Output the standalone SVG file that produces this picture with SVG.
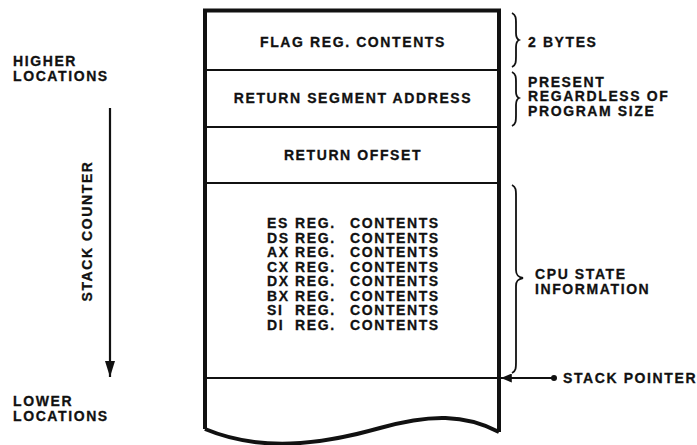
<svg xmlns="http://www.w3.org/2000/svg" width="697" height="445" viewBox="0 0 697 445">
<style>
text{font-family:"Liberation Sans",Arial,sans-serif;font-weight:bold;font-size:14px;fill:#111;stroke:#111;stroke-width:0.3;letter-spacing:1.6px}
.c{text-anchor:middle}
.thick{fill:none;stroke:#111;stroke-width:4;stroke-linejoin:miter}
.div{fill:none;stroke:#111;stroke-width:2}
.br{fill:none;stroke:#111;stroke-width:1.8}
</style>
<defs>
<marker id="ah" viewBox="0 0 12 10" refX="12" refY="5" markerWidth="12" markerHeight="9" markerUnits="userSpaceOnUse" orient="auto">
<path d="M0,0 L12,5 L0,10 Z" fill="#111"/>
</marker>
<marker id="ah2" viewBox="0 0 16 10" refX="16" refY="5" markerWidth="16" markerHeight="10" markerUnits="userSpaceOnUse" orient="auto">
<path d="M0,0 L16,5 L0,10 Z" fill="#111"/>
</marker>
</defs>
<g id="labels-left">
<text x="13" y="66">HIGHER</text>
<text x="13" y="80.5">LOCATIONS</text>
<text x="13" y="406">LOWER</text>
<text x="13" y="420.5">LOCATIONS</text>
<text transform="translate(92,231) rotate(-90)" class="c">STACK COUNTER</text>
</g>
<g id="stack">
<path class="thick" d="M205,429 L205,10.5 L499,10.5 L499,432"/>
<path class="thick" d="M205,429 C260,452 320,445 380,428 C430,414 465,414 499,432"/>
<line class="div" x1="205" y1="70" x2="499" y2="70"/>
<line class="div" x1="205" y1="127" x2="499" y2="127"/>
<line class="div" x1="205" y1="183" x2="499" y2="183"/>
<line class="div" x1="205" y1="378" x2="499" y2="378"/>
</g>
<g id="flag"><text class="c" x="353" y="47">FLAG REG. CONTENTS</text></g>
<g id="retseg"><text class="c" x="353" y="103">RETURN SEGMENT ADDRESS</text></g>
<g id="retoff"><text class="c" x="353" y="160">RETURN OFFSET</text></g>
<g id="cpu-regs">
<text x="267" y="228">ES</text><text x="295" y="228">REG.</text><text x="350" y="228">CONTENTS</text>
<text x="267" y="242.5">DS</text><text x="295" y="242.5">REG.</text><text x="350" y="242.5">CONTENTS</text>
<text x="267" y="257">AX</text><text x="295" y="257">REG.</text><text x="350" y="257">CONTENTS</text>
<text x="267" y="271.5">CX</text><text x="295" y="271.5">REG.</text><text x="350" y="271.5">CONTENTS</text>
<text x="267" y="286">DX</text><text x="295" y="286">REG.</text><text x="350" y="286">CONTENTS</text>
<text x="267" y="300.5">BX</text><text x="295" y="300.5">REG.</text><text x="350" y="300.5">CONTENTS</text>
<text x="267" y="315">SI</text><text x="295" y="315">REG.</text><text x="350" y="315">CONTENTS</text>
<text x="267" y="329.5">DI</text><text x="295" y="329.5">REG.</text><text x="350" y="329.5">CONTENTS</text>
</g>
<g id="braces">
<path class="br" d="M512,13 C516,15 516,18 516,24 L516,33 C516,37 517,39 519,40 C517,41 516,43 516,47 L516,56 C516,62 516,65 512,67"/>
<path class="br" d="M512,72 C516,74 516,77 516,83 L516,92 C516,96 517,97 519,98 C517,99 516,101 516,105 L516,115 C516,121 516,124 512,126"/>
<path class="br" d="M512,185 C516,187 516,190 516,196 L516,270 C516,275 518,277 523,278 C518,279 516,281 516,286 L516,362 C516,368 516,371 512,373"/>
</g>
<g id="brace-labels">
<text x="528" y="47">2 BYTES</text>
<text x="528" y="86.5">PRESENT</text>
<text x="528" y="101">REGARDLESS OF</text>
<text x="528" y="115.5">PROGRAM SIZE</text>
<text x="535" y="279">CPU STATE</text>
<text x="535" y="294">INFORMATION</text>
<text x="563" y="383">STACK POINTER</text>
</g>
<g id="connectors">
<line x1="110" y1="108" x2="110" y2="377" stroke="#111" stroke-width="2.2" marker-end="url(#ah2)"/>
<line x1="553" y1="378" x2="501" y2="378" stroke="#111" stroke-width="2" marker-end="url(#ah)"/>
<circle cx="554" cy="378" r="3" fill="#111"/>
</g>
</svg>
